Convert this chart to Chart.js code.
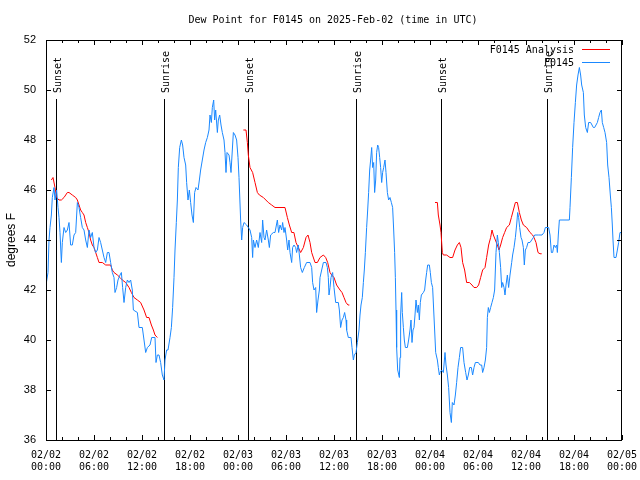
<!DOCTYPE html>
<html>
<head>
<meta charset="utf-8">
<script src="https://cdn.jsdelivr.net/npm/chart.js@4/dist/chart.umd.min.js"></script>
<style>
html,body{margin:0;padding:0;background:#fff;}
#c{display:block;}
</style>
</head>
<body>
<canvas id="c" width="640" height="480"></canvas>
<script>
// ---- Data (x in hours since 2025-02-02 00:00 UTC) ----
const titleText = "Dew Point for F0145 on 2025-Feb-02 (time in UTC)";
const yAxisTitle = "degrees F";
const seriesNames = ["F0145 Analysis", "F0145"];
const xTickLabels = [
  ["02/02","00:00"],["02/02","06:00"],["02/02","12:00"],["02/02","18:00"],
  ["02/03","00:00"],["02/03","06:00"],["02/03","12:00"],["02/03","18:00"],
  ["02/04","00:00"],["02/04","06:00"],["02/04","12:00"],["02/04","18:00"],
  ["02/05","00:00"]
];
const sunHours  = [1.29, 14.79, 25.29, 38.79, 49.33, 62.67];
const sunLabels = ["Sunset","Sunrise","Sunset","Sunrise","Sunset","Sunrise"];

const obsHours = [
0.0,0.25,0.375,0.5,0.67,0.79,1.0,1.125,1.33,1.5,1.625,1.75,1.92,2.04,2.25,2.46,2.67,2.875,3.08,3.29,3.5,3.71,3.92,4.125,4.33,4.54,4.75,4.96,5.17,5.375,5.58,5.79,6.0,6.21,6.42,6.625,6.83,7.04,7.25,7.46,7.67,7.875,8.08,8.29,8.5,8.625,8.83,9.0,9.25,9.42,9.58,9.75,9.96,10.17,10.375,10.58,10.79,10.92,11.42,11.625,12.04,12.25,12.46,12.67,13.0,13.21,13.625,13.75,13.92,14.125,14.33,14.54,14.75,14.875,15.08,15.25,15.5,15.67,15.83,16.0,16.125,16.29,16.42,16.54,16.71,16.92,17.08,17.25,17.46,17.58,17.75,17.92,18.08,18.25,18.42,18.58,18.75,19.0,19.17,19.33,19.54,19.75,19.96,20.17,20.375,20.5,20.67,20.79,20.96,21.08,21.21,21.42,21.54,21.71,21.875,22.04,22.25,22.375,22.5,22.625,22.875,23.0,23.125,23.29,23.42,23.625,23.83,24.0,24.125,24.33,24.46,24.58,24.75,25.08,25.29,25.5,25.71,25.83,25.92,26.125,26.33,26.54,26.75,26.96,27.08,27.25,27.375,27.58,27.79,27.92,28.08,28.42,28.625,28.92,29.08,29.25,29.46,29.58,29.75,29.875,30.08,30.21,30.375,30.5,30.71,30.83,31.0,31.21,31.33,31.54,31.67,31.83,32.04,32.29,32.58,33.0,33.21,33.33,33.5,33.71,33.83,34.0,34.17,34.25,34.46,34.67,35.0,35.17,35.29,35.375,35.5,35.625,35.83,36.0,36.21,36.54,36.67,36.83,37.0,37.17,37.33,37.5,37.58,37.79,38.125,38.25,38.42,38.54,38.75,38.92,39.125,39.25,39.375,39.54,39.67,39.79,39.92,40.08,40.21,40.33,40.46,40.58,40.71,40.83,40.96,41.08,41.21,41.33,41.46,41.58,41.71,41.83,41.96,42.08,42.21,42.375,42.5,42.67,42.83,43.0,43.17,43.33,43.46,43.58,43.67,43.75,43.83,43.96,44.17,44.25,44.33,44.46,44.54,44.67,44.79,44.92,45.17,45.33,45.5,45.625,45.75,45.875,46.0,46.125,46.25,46.42,46.54,46.67,46.79,46.92,47.17,47.33,47.46,47.58,47.71,47.92,48.04,48.17,48.33,48.46,48.58,48.71,48.92,49.04,49.17,49.25,49.46,49.67,49.875,50.0,50.17,50.33,50.5,50.67,50.79,51.0,51.17,51.33,51.5,51.67,51.83,52.08,52.25,52.46,52.625,52.79,52.96,53.17,53.33,53.5,53.67,54.04,54.25,54.46,54.58,54.75,54.92,55.08,55.17,55.29,55.42,55.58,55.75,55.92,56.08,56.25,56.42,56.54,56.67,56.83,56.96,57.08,57.25,57.375,57.5,57.67,57.83,58.0,58.21,58.33,58.5,58.67,58.83,58.96,59.08,59.21,59.375,59.5,59.67,59.79,59.92,60.08,60.25,60.5,60.71,60.92,61.08,61.54,62.0,62.25,62.42,62.83,63.0,63.17,63.33,63.5,63.67,63.83,63.92,64.04,64.17,65.42,65.5,65.67,65.83,66.0,66.17,66.33,66.5,66.67,66.83,66.96,67.17,67.29,67.46,67.67,67.83,68.08,68.25,68.42,68.58,68.75,68.92,69.08,69.25,69.42,69.54,69.71,69.875,70.08,70.21,70.375,70.54,70.67,70.79,70.875,71.0,71.25,71.42,71.58,71.75,71.92
];
const obsValues = [
42.2,42.7,44.0,44.5,45.0,45.7,46.1,45.6,46.0,45.3,44.9,44.3,43.1,43.9,44.5,44.3,44.4,44.7,43.8,43.8,44.2,44.3,45.5,45.3,44.9,44.5,44.4,44.0,43.7,44.4,44.1,44.3,43.7,43.5,43.6,44.1,43.9,43.6,43.3,43.1,43.5,43.5,43.1,42.7,42.5,41.9,42.1,42.4,42.6,42.7,42.1,41.5,42.1,42.4,42.3,42.4,42.0,41.2,41.1,40.5,40.5,40.0,39.5,39.7,39.8,40.1,40.1,39.1,39.4,39.4,39.1,38.6,38.4,39.2,39.6,39.6,40.1,40.5,41.3,42.5,43.6,44.7,45.6,46.9,47.7,48.0,47.8,47.3,47.0,46.3,45.6,46.0,45.5,45.0,44.7,45.9,46.1,46.0,46.4,46.8,47.2,47.6,47.9,48.1,48.4,49.0,48.7,49.3,49.6,48.8,49.2,48.3,48.8,49.0,48.6,48.3,48.0,47.5,46.7,47.5,47.4,47.1,46.7,47.6,48.3,48.2,48.0,47.3,46.5,44.8,44.0,44.5,44.7,44.6,44.5,44.4,44.1,43.3,44.0,43.7,44.0,43.7,44.3,43.9,44.8,44.1,44.0,44.4,44.0,43.7,44.2,44.3,44.3,44.8,44.3,44.6,44.4,44.7,44.3,44.5,44.0,43.6,44.0,43.5,43.1,43.7,43.8,43.7,43.5,43.8,43.4,42.9,42.7,42.9,43.1,43.1,42.9,42.3,42.0,42.1,41.1,41.6,42.0,42.5,42.8,43.1,43.1,42.9,42.5,41.8,42.1,42.5,42.7,42.1,41.5,41.5,41.2,40.5,40.8,40.9,41.1,40.8,40.4,40.1,40.1,39.7,39.2,39.4,39.5,39.9,40.4,41.0,41.4,41.7,42.3,42.8,43.5,44.5,45.2,45.9,46.8,47.2,47.7,46.9,47.1,45.9,46.4,47.5,47.8,47.7,47.3,46.9,46.3,46.7,46.9,47.2,46.7,45.9,45.6,45.7,45.5,45.3,44.4,43.5,42.5,41.2,39.7,38.8,38.5,39.3,41.0,41.9,41.1,40.5,40.0,39.7,39.7,40.0,40.4,40.8,39.9,40.4,40.5,41.0,41.6,41.1,41.4,40.8,41.5,41.8,41.9,42.0,42.4,42.7,43.0,43.0,42.7,42.3,42.1,41.2,40.4,39.5,39.2,38.9,38.6,38.7,38.8,38.7,39.5,39.0,38.6,38.1,37.1,36.7,37.5,37.4,37.8,38.3,38.9,39.3,39.7,39.7,39.1,38.7,38.4,38.6,38.9,38.9,38.6,38.9,39.1,39.1,39.0,39.0,38.7,38.9,39.2,39.7,40.9,41.3,41.1,41.3,41.5,41.7,42.0,43.5,44.2,43.9,43.5,42.9,42.1,42.3,42.1,41.8,42.2,42.6,42.1,42.6,43.1,43.4,43.7,44.1,44.6,45.1,44.9,44.5,44.1,44.0,43.7,43.0,43.6,43.7,43.9,43.9,44.0,44.1,44.2,44.2,44.2,44.3,44.5,44.5,44.2,43.5,43.5,43.8,43.7,43.8,43.5,44.2,44.8,44.8,45.3,46.5,47.7,48.7,49.5,50.2,50.6,50.9,50.6,50.2,49.9,49.0,48.5,48.3,48.7,48.7,48.6,48.5,48.5,48.6,48.7,48.9,49.1,49.2,48.7,48.5,48.3,47.9,47.0,46.5,45.8,45.3,44.6,44.0,43.3,43.3,43.6,43.9,44.3,44.3
];

// Analysis: three separate runs
const anaHours1 = [0.67,0.875,1.125,1.33,1.625,1.92,2.25,2.67,2.875,3.29,3.71,3.92,4.125,4.33,4.54,4.75,4.96,5.17,5.375,5.58,5.79,6.0,6.21,6.42,6.625,7.04,7.46,7.875,8.08,8.29,8.5,8.92,9.25,9.54,9.96,10.17,10.375,10.67,11.0,11.42,11.83,12.25,12.58,12.875,13.17,13.42,13.625,13.92];
const anaVals1  = [46.4,46.5,46.1,45.7,45.6,45.6,45.7,45.9,45.9,45.8,45.7,45.6,45.4,45.2,45.1,45.0,44.7,44.5,44.3,44.0,43.8,43.7,43.5,43.3,43.1,43.1,43.0,43.0,43.0,42.8,42.7,42.6,42.5,42.4,42.3,42.2,42.1,41.9,41.7,41.6,41.5,41.2,40.9,40.9,40.6,40.4,40.2,40.1];
const anaHours2 = [24.67,25.0,25.17,25.29,25.5,25.83,26.125,26.42,26.67,27.17,27.79,28.21,28.625,29.25,29.875,30.17,30.42,30.71,30.99,31.25,31.54,31.83,32.17,32.5,32.75,33.0,33.21,33.625,33.92,34.25,34.67,34.96,35.21,35.5,35.71,36.0,36.33,36.75,37.0,37.25,37.5,37.75,37.92];
const anaVals2  = [48.4,48.4,47.9,47.4,46.9,46.7,46.3,45.9,45.8,45.7,45.5,45.4,45.3,45.3,45.3,44.9,44.6,44.3,44.3,43.9,43.7,43.5,43.7,44.1,44.2,43.9,43.5,43.1,43.1,43.3,43.4,43.3,43.1,42.7,42.6,42.5,42.2,42.0,41.9,41.7,41.5,41.4,41.4];
const anaHours3 = [48.625,48.92,49.04,49.25,49.375,49.54,49.67,50.08,50.5,50.83,51.125,51.42,51.67,51.875,52.08,52.33,52.58,52.92,53.25,53.5,53.83,54.08,54.33,54.58,54.875,55.08,55.33,55.58,55.75,55.92,56.17,56.42,56.625,56.83,57.08,57.33,57.58,57.92,58.17,58.42,58.67,58.92,59.17,59.42,59.67,60.08,60.5,60.83,61.0,61.25,61.5,61.75,61.96];
const anaVals3  = [45.5,45.5,45.0,44.6,44.3,43.5,43.4,43.4,43.3,43.3,43.6,43.8,43.9,43.7,43.1,42.8,42.3,42.3,42.2,42.1,42.1,42.2,42.5,42.8,42.9,43.3,43.8,44.1,44.4,44.2,44.0,43.8,43.6,43.8,44.1,44.3,44.5,44.6,44.9,45.2,45.5,45.5,45.1,44.8,44.6,44.5,44.3,44.2,44.1,43.9,43.5,43.45,43.45];

// ---- build datasets ----
function pts(hs, vs){ return hs.map((h,i)=>({x:h, y:vs[i]})); }
const anaData = [].concat(
  pts(anaHours1, anaVals1), [{x:19, y:null}],
  pts(anaHours2, anaVals2), [{x:43, y:null}],
  pts(anaHours3, anaVals3)
);
const obsData = pts(obsHours, obsValues);

const RED = '#ff0000', BLUE = '#1a88ff';
const MONO = '"DejaVu Sans Mono", "Liberation Mono", monospace';
const SANS = '"Liberation Sans", Arial, sans-serif';

const decor = {
  id: 'decor',
  beforeDatasetsDraw(chart){
    const {ctx, chartArea:a, scales:{x}} = chart;
    ctx.save();
    ctx.strokeStyle = '#000'; ctx.lineWidth = 1;
    ctx.fillStyle = '#000';
    ctx.font = '10px ' + MONO;
    sunHours.forEach((h,i)=>{
      const px = Math.round(x.getPixelForValue(h)) + 0.5;
      ctx.beginPath(); ctx.moveTo(px, a.top + 59); ctx.lineTo(px, a.bottom); ctx.stroke();
      ctx.save();
      ctx.translate(px + 1.5, a.top + 53);
      ctx.rotate(-Math.PI/2);
      ctx.textAlign = 'left'; ctx.textBaseline = 'middle';
      ctx.fillText(sunLabels[i], 0, 0);
      ctx.restore();
    });
    ctx.restore();
  },
  afterDraw(chart){
    const {ctx, chartArea:a, scales:{x,y}} = chart;
    ctx.save();
    ctx.strokeStyle = '#000'; ctx.lineWidth = 1;
    ctx.strokeRect(a.left + 0.5, a.top + 0.5, a.right - a.left - 1, a.bottom - a.top);
    ctx.beginPath();
    for (let h = 0; h <= 72; h += 2){
      const px = Math.round(x.getPixelForValue(h)) + 0.5;
      const len = (h % 6 === 0) ? 5 : 3;
      ctx.moveTo(px, a.bottom); ctx.lineTo(px, a.bottom - len);
      ctx.moveTo(px, a.top); ctx.lineTo(px, a.top + len);
    }
    for (let v = 36; v <= 52; v += 2){
      const py = Math.round(y.getPixelForValue(v)) + 0.5;
      ctx.moveTo(a.left, py); ctx.lineTo(a.left + 5, py);
      ctx.moveTo(a.right, py); ctx.lineTo(a.right - 5, py);
    }
    ctx.stroke();
    // title
    ctx.fillStyle = '#000';
    ctx.font = '10px ' + MONO;
    ctx.textAlign = 'center'; ctx.textBaseline = 'middle';
    ctx.fillText(titleText, (a.left + a.right)/2 - 1, 20);
    // legend
    ctx.textAlign = 'right';
    const lg = [[seriesNames[0], RED, 50], [seriesNames[1], BLUE, 63]];
    lg.forEach(([t,c,yy])=>{
      ctx.fillStyle = '#000';
      ctx.fillText(t, 574, yy);
      ctx.strokeStyle = c; ctx.lineWidth = 1;
      ctx.beginPath(); ctx.moveTo(582, yy - 0.5); ctx.lineTo(610, yy - 0.5); ctx.stroke();
    });
    ctx.restore();
  }
};

new Chart(document.getElementById('c'), {
  type: 'line',
  data: {
    datasets: [
      { label: seriesNames[1], data: obsData, borderColor: BLUE, borderWidth: 1, pointRadius: 0, tension: 0, fill: false },
      { label: seriesNames[0], data: anaData, borderColor: RED, borderWidth: 1, pointRadius: 0, tension: 0, fill: false, spanGaps: false }
    ]
  },
  options: {
    responsive: false,
    animation: false,
    events: [],
    layout: { padding: { left: 0, right: 18, top: 40, bottom: 0 } },
    plugins: { legend: { display: false }, title: { display: false }, tooltip: { enabled: false } },
    scales: {
      x: {
        type: 'linear', min: 0, max: 72,
        grid: { display: false, drawTicks: false }, border: { display: false },
        afterFit(s){ s.height = 40; s.paddingLeft = 0; s.paddingRight = 0; },
        afterBuildTicks(s){ s.ticks = xTickLabels.map((_,i)=>({value: i*6})); },
        ticks: {
          autoSkip: false, maxRotation: 0, padding: 9, color: '#000',
          font: { family: MONO, size: 10, lineHeight: 1.2 },
          callback: (v) => xTickLabels[Math.round(v/6)]
        }
      },
      y: {
        min: 36, max: 52,
        grid: { display: false, drawTicks: false }, border: { display: false },
        afterFit(s){ s.width = 46; s.paddingTop = 0; s.paddingBottom = 0; },
        ticks: { stepSize: 2, padding: 10, color: '#000', font: { family: SANS, size: 11 } },
        title: { display: true, text: yAxisTitle, color: '#000', font: { family: SANS, size: 12 }, padding: 4 }
      }
    }
  },
  plugins: [decor]
});
</script>
</body>
</html>
